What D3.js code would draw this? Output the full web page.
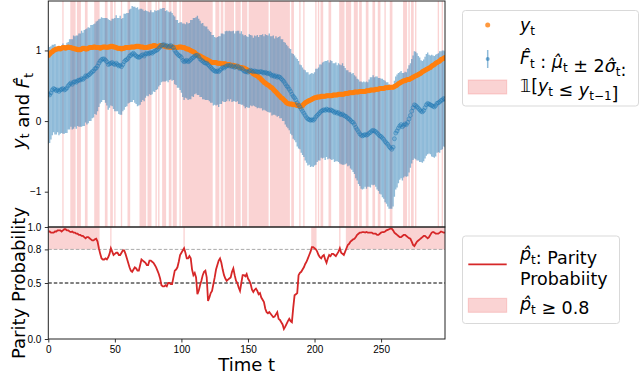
<!DOCTYPE html>
<meta charset="utf-8">
<style>
body { margin: 0; background: #fff; }
svg { font-family: "DejaVu Sans", sans-serif; }
.axis text { font-size: 10px; fill: #000; }
.axis line { stroke: #000; stroke-width: 0.8; }
.axis path { display: none; }
.lab { font-size: 18px; }
.leg { font-size: 17.5px; }
</style>
<svg width="640" height="375"></svg>
<script src="https://d3js.org/d3.v7.min.js"></script>
<script>

// observed target y_t
var yObs = [
  0.93,0.95,0.97,0.98,1.00,1.01,1.02,1.02,1.03,1.02,
  1.03,1.04,1.04,1.03,1.04,1.05,1.04,1.04,1.03,1.03,
  1.02,1.02,1.01,1.01,1.01,1.02,1.03,1.03,1.02,1.02,
  1.03,1.04,1.04,1.04,1.05,1.05,1.04,1.04,1.04,1.03,
  1.04,1.05,1.05,1.05,1.04,1.05,1.05,1.06,1.06,1.05,
  1.05,1.04,1.03,1.03,1.03,1.02,1.03,1.03,1.04,1.04,
  1.04,1.04,1.05,1.05,1.05,1.05,1.06,1.06,1.06,1.05,
  1.05,1.05,1.04,1.04,1.04,1.05,1.05,1.06,1.06,1.07,
  1.07,1.06,1.06,1.06,1.07,1.07,1.07,1.06,1.06,1.05,
  1.05,1.05,1.04,1.05,1.05,1.04,1.04,1.04,1.05,1.05,
  1.05,1.04,1.04,1.03,1.02,1.02,1.01,1.00,0.99,0.98,
  0.97,0.95,0.94,0.93,0.92,0.91,0.90,0.89,0.88,0.87,
  0.86,0.85,0.84,0.83,0.83,0.83,0.83,0.82,0.82,0.82,
  0.81,0.81,0.81,0.81,0.80,0.80,0.80,0.79,0.79,0.79,
  0.78,0.78,0.77,0.77,0.76,0.76,0.75,0.75,0.74,0.73,
  0.72,0.71,0.70,0.69,0.67,0.66,0.65,0.64,0.62,0.61,
  0.59,0.57,0.55,0.54,0.52,0.51,0.50,0.48,0.47,0.45,
  0.43,0.41,0.39,0.37,0.35,0.33,0.32,0.30,0.28,0.26,
  0.25,0.24,0.24,0.24,0.23,0.23,0.23,0.22,0.22,0.21,
  0.21,0.22,0.24,0.26,0.27,0.28,0.29,0.30,0.31,0.32,
  0.33,0.33,0.34,0.34,0.34,0.35,0.35,0.35,0.35,0.36,
  0.36,0.36,0.36,0.36,0.37,0.37,0.37,0.37,0.38,0.38,
  0.38,0.38,0.38,0.39,0.39,0.39,0.40,0.40,0.40,0.40,
  0.41,0.41,0.41,0.41,0.42,0.42,0.42,0.42,0.42,0.43,
  0.43,0.43,0.44,0.44,0.44,0.44,0.45,0.45,0.45,0.46,
  0.46,0.46,0.46,0.47,0.47,0.47,0.48,0.48,0.48,0.48,
  0.49,0.50,0.51,0.53,0.54,0.55,0.56,0.57,0.57,0.58,
  0.59,0.59,0.60,0.61,0.62,0.63,0.64,0.65,0.66,0.67,
  0.68,0.70,0.71,0.72,0.73,0.74,0.75,0.76,0.78,0.79,
  0.80,0.82,0.83,0.84,0.85,0.87,0.88,0.89,0.90
];

// forecast mean mu_t
var muHat = [
  0.38,0.37,0.40,0.44,0.46,0.45,0.43,0.44,0.42,0.44,
  0.45,0.46,0.44,0.45,0.47,0.50,0.52,0.54,0.52,0.55,
  0.56,0.55,0.57,0.58,0.58,0.60,0.59,0.61,0.64,0.63,
  0.65,0.66,0.68,0.70,0.71,0.74,0.75,0.78,0.82,0.85,
  0.87,0.88,0.88,0.86,0.84,0.80,0.81,0.82,0.83,0.81,
  0.80,0.82,0.80,0.78,0.79,0.77,0.80,0.84,0.86,0.87,
  0.89,0.92,0.93,0.95,0.96,0.94,0.92,0.91,0.90,0.91,
  0.93,0.94,0.92,0.95,0.96,0.95,0.96,0.97,0.96,0.98,
  0.99,1.00,1.01,1.03,1.05,1.07,1.08,1.08,1.06,1.07,
  1.05,1.06,1.07,1.05,1.04,1.00,0.97,0.95,0.93,0.92,
  0.90,0.86,0.84,0.85,0.86,0.84,0.85,0.87,0.89,0.90,
  0.92,0.93,0.93,0.91,0.88,0.86,0.85,0.83,0.82,0.82,
  0.80,0.78,0.76,0.74,0.72,0.71,0.70,0.71,0.70,0.72,
  0.74,0.76,0.75,0.77,0.78,0.79,0.78,0.79,0.77,0.78,
  0.76,0.77,0.78,0.76,0.74,0.75,0.73,0.71,0.70,0.70,
  0.69,0.71,0.72,0.71,0.70,0.71,0.70,0.70,0.69,0.70,
  0.70,0.69,0.68,0.69,0.68,0.67,0.68,0.66,0.64,0.65,
  0.63,0.64,0.62,0.63,0.62,0.60,0.58,0.56,0.53,0.50,
  0.48,0.45,0.42,0.38,0.35,0.33,0.30,0.26,0.23,0.20,
  0.17,0.14,0.11,0.08,0.05,0.03,0.02,0.01,0.02,0.01,
  0.03,0.06,0.08,0.10,0.12,0.14,0.15,0.16,0.15,0.17,
  0.16,0.15,0.16,0.15,0.14,0.12,0.13,0.11,0.12,0.10,
  0.09,0.10,0.08,0.07,0.06,0.04,0.03,0.01,-0.01,-0.02,
  -0.05,-0.09,-0.12,-0.15,-0.18,-0.20,-0.21,-0.20,-0.19,-0.20,
  -0.19,-0.17,-0.16,-0.14,-0.13,-0.14,-0.15,-0.17,-0.19,-0.21,
  -0.22,-0.24,-0.26,-0.29,-0.31,-0.33,-0.36,-0.38,-0.40,-0.37,
  -0.25,-0.17,-0.14,-0.10,-0.07,-0.05,-0.08,-0.06,-0.04,-0.05,
  -0.02,0.03,0.08,0.14,0.19,0.23,0.22,0.20,0.18,0.16,
  0.14,0.13,0.15,0.19,0.23,0.25,0.24,0.23,0.22,0.21,
  0.20,0.22,0.25,0.26,0.27,0.29,0.30,0.32,0.31
];

// forecast std sigma_t (bars are mu +/- 2 sigma)
var sigmaHat = [
  .35,.34,.33,.32,.31,.32,.31,.30,.31,.31,
  .31,.32,.31,.31,.32,.31,.32,.31,.32,.33,
  .32,.33,.32,.33,.33,.34,.33,.34,.33,.34,
  .34,.33,.34,.33,.33,.32,.33,.32,.31,.30,
  .30,.29,.29,.30,.31,.32,.31,.30,.31,.32,
  .33,.34,.33,.34,.35,.34,.33,.34,.33,.33,
  .32,.33,.33,.34,.33,.34,.34,.35,.34,.34,
  .33,.32,.32,.31,.30,.30,.29,.30,.29,.28,
  .29,.28,.28,.27,.27,.26,.26,.26,.25,.25,
  .25,.24,.24,.24,.23,.24,.23,.24,.23,.24,
  .25,.26,.27,.26,.27,.27,.27,.28,.27,.28,
  .27,.27,.28,.27,.27,.26,.27,.26,.26,.26,
  .25,.25,.25,.24,.25,.24,.24,.24,.25,.24,
  .25,.24,.24,.25,.25,.24,.25,.24,.25,.25,
  .24,.25,.25,.26,.25,.26,.25,.25,.26,.25,
  .25,.26,.25,.25,.24,.25,.25,.26,.25,.26,
  .26,.27,.26,.27,.27,.27,.28,.27,.28,.28,
  .27,.28,.28,.28,.29,.28,.29,.28,.29,.29,
  .29,.29,.30,.29,.30,.30,.30,.31,.31,.30,
  .31,.31,.31,.32,.32,.33,.32,.33,.33,.33,
  .33,.34,.33,.33,.34,.33,.34,.34,.35,.34,
  .35,.34,.35,.35,.34,.35,.35,.34,.35,.35,
  .35,.36,.35,.34,.33,.34,.33,.34,.34,.35,
  .35,.36,.36,.37,.37,.38,.38,.38,.37,.38,
  .37,.38,.39,.38,.39,.38,.39,.40,.40,.41,
  .41,.42,.42,.43,.43,.44,.44,.43,.42,.42,
  .41,.40,.40,.39,.38,.38,.38,.37,.37,.37,
  .38,.38,.37,.37,.37,.38,.38,.38,.37,.37,
  .36,.36,.36,.36,.36,.36,.35,.35,.36,.36,
  .36,.36,.35,.35,.36,.35,.35,.34,.34
];

// parity probability p_t
var pHat = [
  .96,.96,.95,.95,.95,.96,.96,.97,.97,.97,
  .96,.97,.98,.98,.97,.97,.96,.955,.96,.95,
  .95,.94,.94,.93,.93,.92,.92,.91,.90,.91,
  .91,.90,.89,.88,.88,.89,.895,.87,.81,.76,
  .72,.71,.71,.72,.71,.73,.76,.81,.78,.75,
  .76,.77,.77,.75,.75,.77,.79,.79,.76,.72,
  .68,.64,.61,.60,.62,.64,.63,.61,.61,.66,
  .71,.70,.69,.68,.66,.66,.70,.70,.69,.68,
  .66,.64,.61,.58,.54,.48,.47,.47,.48,.47,
  .50,.50,.49,.49,.55,.61,.62,.64,.69,.75,
  .77,.79,.81,.77,.72,.72,.74,.72,.62,.57,
  .59,.55,.40,.43,.48,.52,.57,.60,.61,.55,
  .34,.37,.41,.43,.49,.55,.62,.66,.70,.72,
  .68,.62,.57,.54,.52,.53,.54,.55,.60,.63,
  .57,.52,.50,.46,.43,.50,.57,.57,.56,.58,
  .54,.52,.49,.44,.42,.44,.45,.43,.40,.41,
  .37,.35,.33,.27,.24,.23,.24,.225,.21,.195,
  .20,.22,.24,.18,.17,.15,.13,.09,.11,.135,
  .16,.18,.16,.15,.28,.39,.40,.41,.57,.59,
  .60,.62,.64,.67,.69,.72,.75,.78,.82,.82,
  .81,.80,.78,.75,.73,.72,.74,.75,.71,.68,
  .72,.75,.74,.76,.76,.75,.74,.76,.78,.81,
  .77,.76,.75,.78,.81,.84,.85,.87,.88,.89,
  .895,.91,.93,.94,.95,.95,.955,.955,.95,.955,
  .95,.95,.95,.95,.94,.94,.94,.93,.93,.94,
  .95,.955,.955,.96,.97,.975,.98,.985,.985,.97,
  .95,.94,.93,.92,.91,.91,.92,.93,.93,.92,
  .91,.90,.895,.87,.84,.83,.85,.87,.88,.89,
  .90,.91,.92,.92,.91,.90,.91,.93,.95,.955,
  .95,.94,.94,.94,.95,.96,.955,.95,.95
];

// time steps where y_t <= y_{t-1}
var downT = [
  11,17,18,19,20,22,23,24,28,29,35,36,37,38,43,44,47,48,50,55,60,61,
  69,70,71,72,73,75,76,77,81,83,86,87,88,91,92,94,95,96,99,
  101,102,103,104,105,106,107,108,109,110,111,112,113,114,115,116,117,118,119,120,121,122,123,
  126,127,128,130,131,133,134,135,136,137,138,139,141,142,143,144,146,147,148,149,
  151,152,153,154,155,156,157,158,159,160,161,162,163,164,165,
  167,168,169,170,171,172,173,174,175,176,177,178,179,180,181,
  183,184,189,192,201,203,205,206,211,212,219,220,221,222,224,225,226,227,
  230,231,232,234,235,239,240,244,245,248,249,253,257,258,
  267,268,269,271,273,274,276,293,296
];

var xTicks = [0, 50, 100, 150, 200, 250];
var yTopTicks = [-1, 0, 1];
var yBotTicks = [0, 0.5, 0.8, 1.0];
var pThresh = 0.8;

var svg = d3.select("svg");
var left = 48.3, right = 445;
var topY0 = 1, topY1 = 227, botY1 = 339;

var T = yObs.map(function(d, i) { return i; });

var x = d3.scaleLinear().domain([0, 298]).range([left, right]);
var yTop = d3.scaleLinear().domain([-1.5, 1.7]).range([topY1, topY0]);
var yBot = d3.scaleLinear().domain([0, 1]).range([botY1, topY1]);

var pink = "#f08080", pinkOp = 0.35;

svg.append("clipPath").attr("id", "cTop").append("rect")
    .attr("x", left).attr("y", topY0).attr("width", right - left).attr("height", topY1 - topY0);
svg.append("clipPath").attr("id", "cBot").append("rect")
    .attr("x", left).attr("y", topY1).attr("width", right - left).attr("height", botY1 - topY1);

// group consecutive indices into runs
function runs(list) {
    var out = [], s = null, p = null;
    list.forEach(function(t) {
        if (s === null) { s = t; p = t; }
        else if (t === p + 1) { p = t; }
        else { out.push([s, p]); s = t; p = t; }
    });
    if (s !== null) out.push([s, p]);
    return out;
}

var gTop = svg.append("g").attr("clip-path", "url(#cTop)");

gTop.selectAll(".band")
    .data(runs(downT))
    .enter().append("rect")
    .attr("class", "band")
    .attr("x", function(d) { return x(d[0] - 0.5); })
    .attr("width", function(d) { return x(d[1] + 0.5) - x(d[0] - 0.5); })
    .attr("y", topY0)
    .attr("height", topY1 - topY0)
    .style("fill", pink)
    .style("fill-opacity", pinkOp);

gTop.selectAll(".ebar")
    .data(T)
    .enter().append("line")
    .attr("class", "ebar")
    .attr("x1", function(i) { return x(i); })
    .attr("x2", function(i) { return x(i); })
    .attr("y1", function(i) { return yTop(muHat[i] - 2 * sigmaHat[i]); })
    .attr("y2", function(i) { return yTop(muHat[i] + 2 * sigmaHat[i]); })
    .style("stroke", "#1f77b4")
    .style("stroke-opacity", 0.5)
    .style("stroke-width", 1.35);

gTop.selectAll(".obs")
    .data(T)
    .enter().append("circle")
    .attr("class", "obs")
    .attr("cx", function(i) { return x(i); })
    .attr("cy", function(i) { return yTop(yObs[i]); })
    .attr("r", 2.5)
    .style("fill", "#ff7f0e");

gTop.selectAll(".mu")
    .data(T)
    .enter().append("circle")
    .attr("class", "mu")
    .attr("cx", function(i) { return x(i); })
    .attr("cy", function(i) { return yTop(muHat[i]); })
    .attr("r", 2)
    .style("fill", "#1f77b4")
    .style("fill-opacity", 0.2)
    .style("stroke", "#1f77b4")
    .style("stroke-opacity", 0.55)
    .style("stroke-width", 0.8);

// bottom panel
var gBot = svg.append("g").attr("clip-path", "url(#cBot)");

var hiIdx = T.filter(function(i) { return pHat[i] >= pThresh; });
gBot.selectAll(".hi")
    .data(runs(hiIdx))
    .enter().append("rect")
    .attr("class", "hi")
    .attr("x", function(d) { return x(d[0] - 0.5); })
    .attr("width", function(d) { return x(d[1] + 0.5) - x(d[0] - 0.5); })
    .attr("y", yBot(1))
    .attr("height", yBot(pThresh) - yBot(1))
    .style("fill", pink)
    .style("fill-opacity", pinkOp);

gBot.append("line")
    .attr("x1", left).attr("x2", right)
    .attr("y1", yBot(0.8)).attr("y2", yBot(0.8))
    .style("stroke", "#aaa").style("stroke-width", 1).style("stroke-dasharray", "3.5,2");
gBot.append("line")
    .attr("x1", left).attr("x2", right)
    .attr("y1", yBot(0.5)).attr("y2", yBot(0.5))
    .style("stroke", "#000").style("stroke-width", 1).style("stroke-dasharray", "3.5,2");

gBot.append("path")
    .datum(T)
    .attr("d", d3.line().x(function(i) { return x(i); }).y(function(i) { return yBot(pHat[i]); }))
    .style("fill", "none")
    .style("stroke", "#d62728")
    .style("stroke-width", 1.8);

// axes
svg.append("g").attr("class", "axis")
    .attr("transform", "translate(" + left + ",0)")
    .call(d3.axisLeft(yTop).tickValues(yTopTicks).tickSize(3.5).tickPadding(3.5)
        .tickFormat(function(d) { return d < 0 ? "\u2212" + Math.abs(d) : d; }));

svg.append("g").attr("class", "axis")
    .attr("transform", "translate(" + left + ",0)")
    .call(d3.axisLeft(yBot).tickValues(yBotTicks).tickSize(3.5).tickPadding(3.5)
        .tickFormat(d3.format(".1f")));

svg.append("g").attr("class", "axis")
    .attr("transform", "translate(0," + botY1 + ")")
    .call(d3.axisBottom(x).tickValues(xTicks).tickSize(3.5).tickPadding(3));

// frames
[[topY0, topY1], [topY1, botY1]].forEach(function(r) {
    svg.append("rect")
        .attr("x", left).attr("y", r[0])
        .attr("width", right - left).attr("height", r[1] - r[0])
        .style("fill", "none").style("stroke", "#222").style("stroke-width", 1);
});

// axis labels
function sub(t, base, s, opts) {
    opts = opts || {};
    var a = t.append("tspan").text(base);
    if (opts.italic) a.style("font-style", "italic");
    t.append("tspan").attr("dy", 4).style("font-size", "12px").text(s);
    t.append("tspan").attr("dy", -4).text("");
}

var yl = svg.append("text").attr("class", "lab")
    .attr("transform", "translate(25,111) rotate(-90)")
    .attr("text-anchor", "middle");
sub(yl, "y", "t", {italic: true});
yl.append("tspan").text(" and ");
sub(yl, "F\u0302", "t", {italic: true});

svg.append("text").attr("class", "lab")
    .attr("transform", "translate(25," + 283 + ") rotate(-90)")
    .attr("text-anchor", "middle")
    .text("Parity Probability");

svg.append("text").attr("class", "lab")
    .attr("x", (left + right) / 2).attr("y", 371)
    .attr("text-anchor", "middle")
    .text("Time t");

// legends
function legBox(x0, y0, w, h) {
    svg.append("rect").attr("x", x0).attr("y", y0).attr("width", w).attr("height", h)
        .attr("rx", 3).style("fill", "#fff").style("fill-opacity", 0.8)
        .style("stroke", "#d9d9d9").style("stroke-width", 1);
}

legBox(462.5, 10.5, 176, 95.5);
svg.append("circle").attr("cx", 487.7).attr("cy", 25).attr("r", 2.5).style("fill", "#ff7f0e").style("opacity", 0.8);
svg.append("line").attr("x1", 487.7).attr("x2", 487.7).attr("y1", 50).attr("y2", 68)
    .style("stroke", "#1f77b4").style("stroke-opacity", 0.5).style("stroke-width", 1.5);
svg.append("circle").attr("cx", 487.7).attr("cy", 59).attr("r", 2).style("fill", "#1f77b4").style("fill-opacity", 0.6);
svg.append("rect").attr("x", 468.3).attr("y", 80).attr("width", 38.4).attr("height", 14)
    .style("fill", pink).style("fill-opacity", pinkOp)
    .style("stroke", pink).style("stroke-opacity", pinkOp);

var l1 = svg.append("text").attr("class", "leg").attr("x", 520).attr("y", 31);
sub(l1, "y", "t", {italic: true});
var l2 = svg.append("text").attr("class", "leg").attr("x", 520).attr("y", 64);
sub(l2, "F\u0302", "t", {italic: true});
l2.append("tspan").text(" : ");
sub(l2, "\u03bc\u0302", "t", {italic: true});
l2.append("tspan").text(" \u00b1 2");
sub(l2, "\u03c3\u0302", "t", {italic: true});
l2.append("tspan").text(":");
var l3 = svg.append("text").attr("class", "leg").attr("x", 520).attr("y", 92);
l3.append("tspan").text("\ud835\udfd9[");
sub(l3, "y", "t", {italic: true});
l3.append("tspan").text(" \u2264 ");
sub(l3, "y", "t\u22121", {italic: true});
l3.append("tspan").text("]");

legBox(462.5, 236, 157, 87.5);
svg.append("line").attr("x1", 468.3).attr("x2", 506.7).attr("y1", 264.3).attr("y2", 264.3)
    .style("stroke", "#d62728").style("stroke-width", 1.8);
svg.append("rect").attr("x", 468.3).attr("y", 298.3).attr("width", 38.4).attr("height", 14)
    .style("fill", pink).style("fill-opacity", pinkOp)
    .style("stroke", pink).style("stroke-opacity", pinkOp);

var m1 = svg.append("text").attr("class", "leg").attr("x", 520).attr("y", 259.5);
sub(m1, "p\u0302", "t", {italic: true});
m1.append("tspan").text(": Parity");
svg.append("text").attr("class", "leg").attr("x", 520).attr("y", 284.5).text("Probabiity");
var m3 = svg.append("text").attr("class", "leg").attr("x", 520).attr("y", 310);
sub(m3, "p\u0302", "t", {italic: true});
m3.append("tspan").text(" \u2265 0.8");

</script>
